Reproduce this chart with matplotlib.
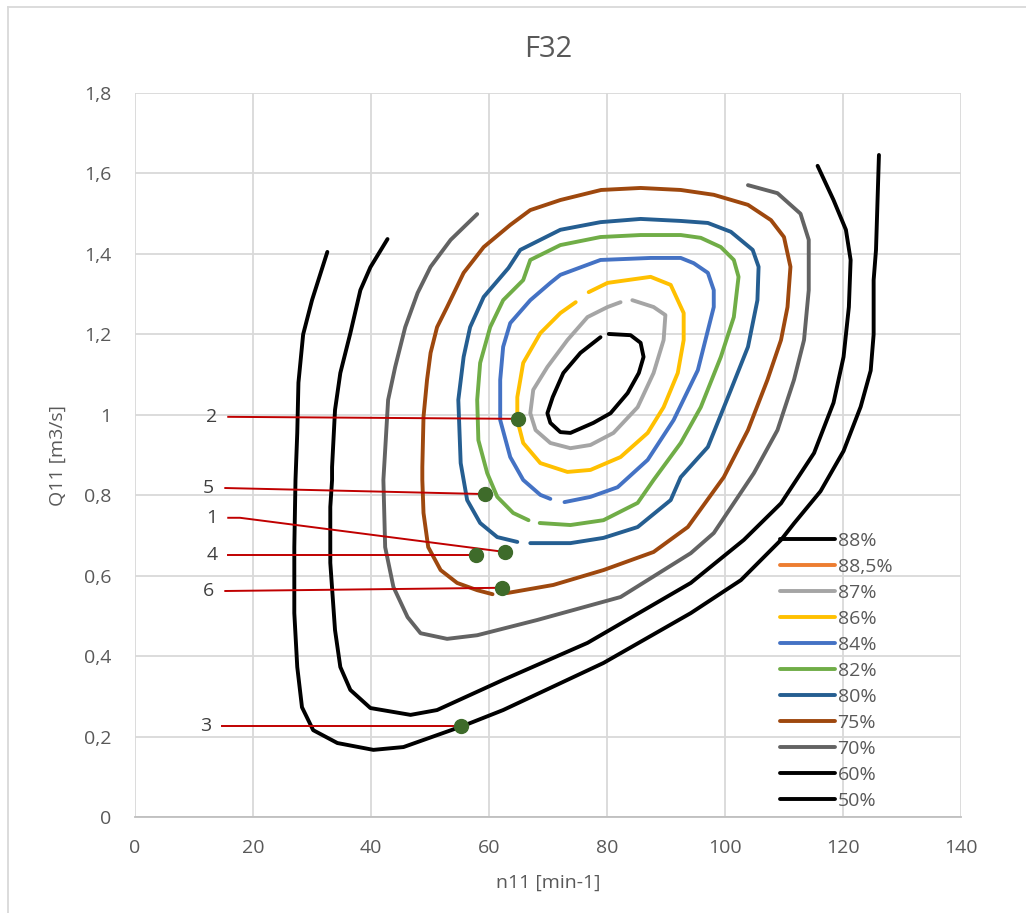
import matplotlib.pyplot as plt
from matplotlib.lines import Line2D

plt.rcParams["font.family"] = ["Open Sans", "DejaVu Sans"]

# efficiency contours (n11 [min-1], Q11 [m3/s])
n_88 = [80.3, 84.0, 85.7, 86.2, 85.4, 83.5, 80.6, 77.7, 73.8, 72.1, 70.4, 69.9, 70.8, 72.6, 75.5, 78.9]
q_88 = [1.201, 1.198, 1.179, 1.144, 1.104, 1.054, 1.004, 0.980, 0.955, 0.957, 0.980, 1.004, 1.044, 1.104, 1.154, 1.193]

n_87 = [84.3, 87.9, 89.9, 89.6, 87.9, 85.2, 81.1, 77.2, 73.8, 70.4, 67.9, 67.0, 67.5, 69.9, 73.3, 76.7, 80.1, 82.3]
q_87 = [1.285, 1.268, 1.248, 1.186, 1.104, 1.019, 0.955, 0.925, 0.917, 0.930, 0.962, 1.004, 1.062, 1.119, 1.186, 1.243, 1.268, 1.280]

n_86 = [76.9, 80.1, 83.5, 87.4, 90.8, 93.0, 93.0, 92.0, 89.6, 86.9, 82.3, 77.2, 73.3, 68.7, 65.8, 64.8,
        64.8, 65.8, 68.7, 72.1, 74.7]
q_86 = [1.305, 1.328, 1.335, 1.343, 1.323, 1.253, 1.186, 1.104, 1.019, 0.955, 0.895, 0.863, 0.858, 0.880,
        0.930, 0.987, 1.044, 1.129, 1.203, 1.253, 1.280]

n_84 = [72.8, 77.2, 81.8, 86.9, 91.3, 95.4, 98.1, 98.1, 97.1, 94.7, 92.5, 87.4, 78.9, 72.1, 70.4, 67.0,
        63.6, 62.4, 61.9, 61.9, 63.6, 65.8, 68.7, 70.4]
q_84 = [0.783, 0.796, 0.820, 0.888, 0.987, 1.111, 1.268, 1.310, 1.353, 1.377, 1.390, 1.390, 1.385, 1.348,
        1.328, 1.285, 1.228, 1.169, 1.087, 0.987, 0.895, 0.838, 0.801, 0.791]

n_82 = [68.6, 73.8, 79.4, 85.2, 87.9, 92.5, 95.9, 99.3, 101.5, 102.3, 101.5, 99.3, 95.9, 92.5, 85.7, 78.9,
        72.1, 67.0, 65.8, 62.4, 60.2, 58.5, 58.0, 58.2, 59.7, 61.4, 64.1, 66.7]
q_82 = [0.731, 0.726, 0.738, 0.781, 0.838, 0.930, 1.019, 1.144, 1.243, 1.343, 1.385, 1.417, 1.440, 1.447,
        1.447, 1.442, 1.422, 1.385, 1.335, 1.285, 1.218, 1.129, 1.037, 0.937, 0.855, 0.796, 0.756, 0.738]

n_80 = [67.0, 73.8, 79.4, 85.2, 90.8, 92.5, 97.1, 101.0, 103.9, 105.5, 105.7, 104.7, 101.0, 97.1, 92.5,
        85.7, 78.9, 72.1, 68.7, 65.3, 63.3, 59.1, 56.8, 55.7, 54.8, 55.2, 56.3, 58.5, 61.4, 64.8]
q_80 = [0.681, 0.681, 0.694, 0.721, 0.788, 0.845, 0.920, 1.062, 1.169, 1.285, 1.368, 1.410, 1.455, 1.477,
        1.482, 1.487, 1.479, 1.460, 1.435, 1.410, 1.365, 1.293, 1.218, 1.144, 1.037, 0.880, 0.788, 0.731,
        0.696, 0.684]

n_75 = [63.1, 70.9, 79.4, 87.9, 93.7, 99.8, 103.9, 107.2, 109.5, 110.6, 111.1, 110.0, 107.8, 103.9, 98.1,
        92.5, 85.7, 79.0, 72.1, 67.0, 63.6, 59.1, 55.7, 52.9, 51.2, 50.1, 49.5, 48.9, 48.7, 48.7, 48.9,
        49.7, 51.8, 54.6, 58.0, 60.6]
q_75 = [0.557, 0.577, 0.614, 0.659, 0.721, 0.845, 0.962, 1.087, 1.186, 1.268, 1.368, 1.442, 1.484, 1.522,
        1.547, 1.559, 1.564, 1.559, 1.534, 1.509, 1.472, 1.417, 1.353, 1.268, 1.218, 1.154, 1.087, 0.995,
        0.870, 0.838, 0.756, 0.671, 0.614, 0.582, 0.564, 0.554]

n_70 = [103.9, 108.9, 112.8, 114.2, 114.2, 113.4, 111.7, 108.9, 104.9, 98.1, 94.2, 82.3, 68.2, 58.0, 52.9,
        48.4, 46.2, 43.8, 42.4, 42.1, 42.4, 42.9, 44.1, 45.8, 47.9, 50.1, 53.5, 58.0]
q_70 = [1.571, 1.551, 1.500, 1.435, 1.310, 1.186, 1.087, 0.962, 0.855, 0.706, 0.656, 0.547, 0.490, 0.452,
        0.443, 0.457, 0.497, 0.572, 0.671, 0.838, 0.912, 1.037, 1.119, 1.218, 1.303, 1.368, 1.435, 1.499]

n_60 = [115.7, 118.4, 120.5, 121.3, 121.0, 120.1, 118.4, 115.1, 109.5, 103.2, 94.2, 76.7, 62.4, 51.2, 46.7,
        39.9, 36.5, 34.8, 33.9, 33.1, 33.1, 33.4, 33.4, 33.9, 34.8, 36.5, 38.2, 39.9, 42.8]
q_60 = [1.619, 1.534, 1.460, 1.385, 1.268, 1.144, 1.030, 0.905, 0.780, 0.689, 0.582, 0.433, 0.341, 0.266,
        0.254, 0.271, 0.316, 0.373, 0.465, 0.632, 0.771, 0.838, 0.870, 1.012, 1.104, 1.203, 1.310, 1.367,
        1.437]

n_50 = [126.1, 125.6, 125.2, 125.2, 124.7, 123.0, 120.1, 116.2, 111.7, 109.5, 102.7, 94.2, 79.4, 62.4, 55.5,
        45.5, 40.4, 34.3, 30.2, 28.3, 27.5, 27.0, 27.0, 27.2, 27.5, 27.7, 28.5, 30.0, 32.6]
q_50 = [1.646, 1.410, 1.335, 1.200, 1.110, 1.020, 0.910, 0.810, 0.730, 0.689, 0.589, 0.507, 0.383, 0.266,
        0.226, 0.174, 0.167, 0.184, 0.216, 0.273, 0.373, 0.507, 0.671, 0.838, 0.955, 1.080, 1.200, 1.285,
        1.405]

# measured points and where their labels sit
pt_labels = ["2", "5", "1", "4", "6", "3"]
pt_n = [65.0, 59.3, 62.7, 57.8, 62.2, 55.3]
pt_q = [0.990, 0.803, 0.659, 0.652, 0.570, 0.226]
lab_n = [13.0, 12.5, 13.0, 13.0, 12.5, 12.0]
lab_q = [0.995, 0.818, 0.744, 0.652, 0.562, 0.226]

fig = plt.figure(figsize=(10.26, 9.13), dpi=100)
ax = fig.add_axes([0.1316, 0.1051, 0.805, 0.793])

curves = [
    ("88%", n_88, q_88, "black"),
    ("88,5%", [], [], "#ED7D31"),
    ("87%", n_87, q_87, "#A5A5A5"),
    ("86%", n_86, q_86, "#FFC000"),
    ("84%", n_84, q_84, "#4472C4"),
    ("82%", n_82, q_82, "#70AD47"),
    ("80%", n_80, q_80, "#255E91"),
    ("75%", n_75, q_75, "#9E480E"),
    ("70%", n_70, q_70, "#636363"),
    ("60%", n_60, q_60, "black"),
    ("50%", n_50, q_50, "black"),
]
for lab, xs, ys, col in curves:
    ax.plot(xs, ys, color=col, lw=2.8, label=lab, solid_capstyle="round", solid_joinstyle="round")

# red leader lines + labels
for i in range(len(pt_labels)):
    if pt_labels[i] == "1":
        ax.plot([lab_n[i] + 2.8, 17.8, pt_n[i]], [lab_q[i], lab_q[i], pt_q[i]], color="#C00000", lw=1.4)
    else:
        ax.plot([lab_n[i] + 2.8, pt_n[i]], [lab_q[i], pt_q[i]], color="#C00000", lw=1.4)
    ax.text(lab_n[i], lab_q[i], pt_labels[i], ha="center", va="center", fontsize=14, color="#404040")
ax.plot(pt_n, pt_q, "o", color="#3E6B2A", ms=10, ls="none", zorder=5)

ax.set_xlim(0, 140)
ax.set_ylim(0, 1.8)
ax.set_xticks(range(0, 141, 20))
ax.set_yticks([0, 0.2, 0.4, 0.6, 0.8, 1.0, 1.2, 1.4, 1.6, 1.8])
ax.set_yticklabels(["0", "0,2", "0,4", "0,6", "0,8", "1", "1,2", "1,4", "1,6", "1,8"])
ax.grid(True, color="#D9D9D9", lw=1.3)
ax.set_axisbelow(True)
for s in ["top", "right", "left"]:
    ax.spines[s].set_visible(False)
ax.spines["bottom"].set_color("#BFBFBF")
ax.spines["bottom"].set_linewidth(1.3)
ax.tick_params(length=0, labelsize=14, colors="#595959")
ax.tick_params(axis="x", pad=16)
ax.tick_params(axis="y", pad=17)
ax.set_xlabel("n11 [min-1]", fontsize=14, color="#595959", labelpad=12)
ax.set_ylabel("Q11 [m3/s]", fontsize=14, color="#595959", labelpad=12)
ax.set_title("F32", fontsize=21, color="#595959", pad=26)

leg = ax.legend(loc="upper left", bbox_to_anchor=(0.751, 0.428), bbox_transform=fig.transFigure,
                frameon=False, fontsize=14, handlelength=2.8, labelspacing=0.41, handletextpad=0.15,
                borderpad=0)
for t in leg.get_texts():
    t.set_color("#595959")

# chart area border (left and top only visible)
fig.add_artist(Line2D([8 / 1026, 8 / 1026], [0, 1 - 7 / 913], color="#D9D9D9", lw=1.3,
                      transform=fig.transFigure))
fig.add_artist(Line2D([8 / 1026, 1], [1 - 7 / 913, 1 - 7 / 913], color="#D9D9D9", lw=1.3,
                      transform=fig.transFigure))

fig.savefig("out.png", dpi=100)
